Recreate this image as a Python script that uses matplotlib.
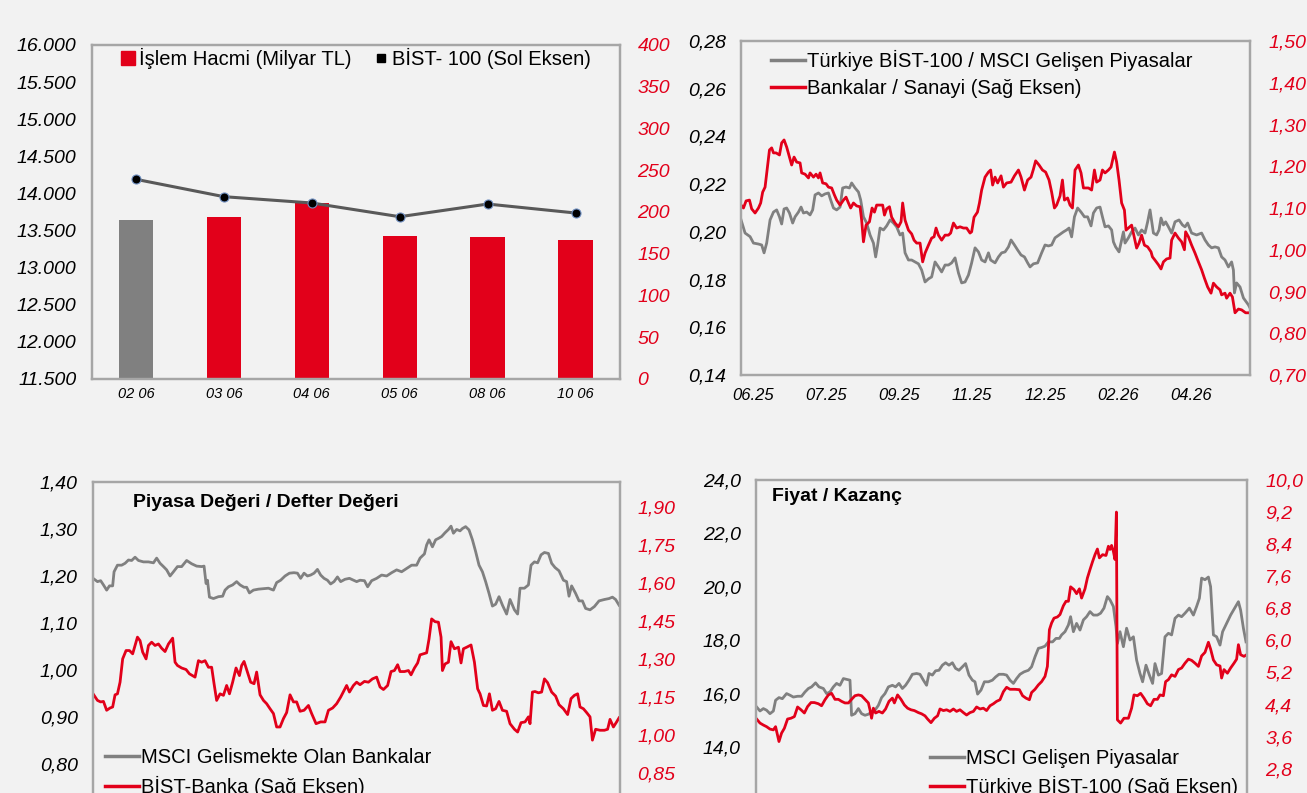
import matplotlib
matplotlib.use("Agg")
import matplotlib.pyplot as plt
from matplotlib.lines import Line2D

plt.rcParams['font.family'] = ['Liberation Sans', 'DejaVu Sans']

RED = '#e2001a'
GRAY = '#808080'
BG = '#f2f2f2'
EDGE = '#a6a6a6'

# ---- top left: islem hacmi / BIST-100
tl_dates = ["02 06", "03 06", "04 06", "05 06", "08 06", "10 06"]
tl_volume = [190, 194, 211, 171, 170, 166]
tl_bist = [14190, 13956, 13871, 13686, 13857, 13736]
tl_bar_colors = [GRAY, RED, RED, RED, RED, RED]

# ---- top right: relative performance (x = trading day)
tr_labels = ["06.25", "07.25", "09.25", "11.25", "12.25", "02.26", "04.26"]
tr_tick_days = [6, 42.5, 79, 115.5, 152, 188.5, 225]
tr_gray_x = [0, 2.0, 4.5, 6.2, 8.7, 10.3, 11.5, 12.8, 14.5, 16.2, 17.8, 19.2, 20.3, 21.5, 22.8, 24.2,
             25.8, 27.0, 28.7, 30.0, 31.2, 32.8, 34.5, 35.8, 37.0, 38.7, 40.3, 42.0, 43.7, 44.8, 46.2,
             47.8, 49.5, 50.8, 52.5, 54.2, 55.3, 57.0, 58.7, 59.8, 61.2, 62.8, 64.5, 66.2, 67.3, 68.3,
             69.5, 71.2, 72.8, 74.5, 76.2, 77.8, 79.5, 80.8, 82.0, 83.7, 85.3, 87.0, 88.7, 90.3, 92.0,
             93.7, 95.3, 97.0, 98.7, 100.3, 102.0, 103.7, 105.3, 107.0, 108.7, 110.3, 112.0, 113.7,
             115.3, 117.0, 118.7, 120.3, 122.0, 123.7, 124.8, 127.0, 128.7, 130.3, 132.0, 133.7, 135.0,
             136.7, 138.3, 140.0, 141.7, 143.3, 144.5, 146.2, 148.3, 150.3, 152.0, 153.7, 155.3, 157.0,
             159.0, 161.2, 162.8, 164.0, 165.3, 166.7, 168.3, 170.0, 171.7, 173.3, 175.0, 176.2, 177.8,
             179.5, 180.7, 182.0, 183.7, 185.3, 186.2, 187.3, 189.0, 190.3, 191.2, 192.0, 193.7, 195.3,
             197.0, 198.7, 200.3, 202.0, 203.3, 204.5, 206.2, 207.8, 209.0, 210.0, 211.2, 212.3, 213.7,
             215.3, 217.0, 219.0, 220.7, 222.0, 223.3, 225.3, 227.8, 230.3, 232.0, 233.7, 235.3, 237.0,
             238.7, 240.3, 242.0, 243.7, 245.3, 246.2, 246.7, 247.8, 249.5, 251.2, 253.7, 254.5]
tr_gray = [0.205, 0.1995, 0.198, 0.1953, 0.1949, 0.1945, 0.1912, 0.1953, 0.205, 0.2083, 0.2092, 0.2063,
           0.2033, 0.2096, 0.2100, 0.2079, 0.2037, 0.2063, 0.2083, 0.2104, 0.2079, 0.2083, 0.2071, 0.2092,
           0.2155, 0.2163, 0.2151, 0.2159, 0.2163, 0.2134, 0.2100, 0.2092, 0.2104, 0.2184, 0.2188, 0.2184,
           0.2205, 0.2184, 0.2167, 0.2134, 0.2063, 0.2037, 0.1987, 0.1953, 0.1895, 0.1945, 0.2016, 0.2008,
           0.2025, 0.2050, 0.2037, 0.2021, 0.1987, 0.1995, 0.1912, 0.1882, 0.1882, 0.1874, 0.1866, 0.1840,
           0.1790, 0.1803, 0.1811, 0.1874, 0.1853, 0.1832, 0.1861, 0.1861, 0.1870, 0.1891, 0.1828, 0.1786,
           0.1790, 0.1819, 0.1870, 0.1933, 0.1916, 0.1882, 0.1874, 0.1912, 0.1882, 0.1870, 0.1895, 0.1912,
           0.1916, 0.1937, 0.1966, 0.1945, 0.1924, 0.1903, 0.1895, 0.1870, 0.1853, 0.1866, 0.1870, 0.1912,
           0.1945, 0.1941, 0.1945, 0.1975, 0.1987, 0.2000, 0.2008, 0.2016, 0.1979, 0.2063, 0.2100, 0.2083,
           0.2063, 0.2063, 0.2025, 0.2079, 0.2100, 0.2104, 0.2063, 0.2021, 0.2025, 0.2008, 0.1958, 0.1937,
           0.1916, 0.1966, 0.2000, 0.1953, 0.1975, 0.2000, 0.2016, 0.1987, 0.2008, 0.1995, 0.2042, 0.2092,
           0.1995, 0.1987, 0.2008, 0.2058, 0.2029, 0.2042, 0.2021, 0.1995, 0.2042, 0.2050, 0.2029, 0.2021,
           0.2037, 0.1995, 0.1987, 0.1995, 0.1966, 0.1945, 0.1933, 0.1937, 0.1933, 0.1895, 0.1882, 0.1853,
           0.1874, 0.1840, 0.1744, 0.1786, 0.1769, 0.1723, 0.1694, 0.1681]
tr_red_x = [0, 1.2, 2.5, 4.2, 5.3, 7.0, 8.7, 9.8, 10.8, 12.0, 13.2, 14.2, 15.3, 16.2, 17.5, 19.2, 20.3,
            21.5, 22.8, 24.2, 25.3, 26.5, 27.8, 29.5, 30.3, 32.0, 33.7, 34.5, 36.2, 37.5, 38.7, 39.5,
            40.8, 42.5, 43.7, 45.3, 46.7, 47.8, 49.5, 51.2, 52.5, 53.7, 54.8, 56.2, 57.8, 59.5, 60.3,
            61.2, 62.5, 64.2, 65.5, 66.7, 67.8, 69.5, 70.8, 71.7, 72.8, 74.2, 75.3, 77.0, 78.7, 80.0,
            80.8, 82.0, 83.7, 85.3, 86.5, 87.8, 89.5, 90.8, 92.0, 93.7, 95.3, 96.5, 97.5, 98.7, 100.3,
            102.0, 103.7, 104.8, 106.2, 107.8, 109.5, 111.2, 112.8, 114.5, 115.3, 116.5, 118.2, 119.2,
            120.3, 122.0, 123.7, 124.8, 125.8, 127.0, 128.3, 130.0, 131.2, 132.8, 135.0, 136.7, 138.7,
            140.0, 141.7, 143.3, 145.0, 146.2, 147.3, 149.0, 150.7, 152.3, 154.0, 155.3, 156.7, 157.8,
            159.5, 160.7, 161.7, 163.3, 164.5, 165.7, 167.0, 168.7, 170.0, 171.2, 173.7, 175.3, 176.7,
            177.8, 179.5, 180.7, 182.0, 183.7, 185.0, 186.7, 187.8, 189.0, 190.3, 191.7, 192.5, 193.7,
            195.3, 196.7, 197.8, 199.0, 200.3, 201.7, 203.3, 205.0, 205.7, 207.0, 208.7, 210.0, 211.2,
            212.8, 214.5, 215.3, 217.0, 218.7, 220.3, 221.7, 222.3, 223.7, 225.3, 227.0, 228.7, 230.3,
            231.7, 233.3, 235.0, 236.2, 237.8, 239.5, 240.3, 242.0, 242.8, 244.5, 245.7, 247.0, 248.7,
            250.3, 252.3, 254.5]
tr_red = [1.107, 1.100, 1.117, 1.119, 1.098, 1.088, 1.100, 1.112, 1.138, 1.150, 1.198, 1.239, 1.244,
          1.232, 1.232, 1.227, 1.256, 1.263, 1.246, 1.222, 1.203, 1.222, 1.210, 1.208, 1.184, 1.181,
          1.172, 1.184, 1.174, 1.181, 1.172, 1.184, 1.160, 1.158, 1.150, 1.148, 1.131, 1.119, 1.107,
          1.119, 1.126, 1.112, 1.100, 1.112, 1.105, 1.103, 1.071, 1.019, 1.059, 1.067, 1.100, 1.090,
          1.107, 1.107, 1.107, 1.083, 1.098, 1.103, 1.078, 1.064, 1.055, 1.067, 1.112, 1.071, 1.047,
          1.038, 1.023, 1.016, 1.016, 0.971, 0.992, 1.011, 1.028, 1.031, 1.052, 1.035, 1.023, 1.035,
          1.035, 1.040, 1.064, 1.052, 1.055, 1.052, 1.052, 1.040, 1.043, 1.078, 1.090, 1.112, 1.143,
          1.174, 1.186, 1.191, 1.155, 1.174, 1.160, 1.177, 1.150, 1.160, 1.162, 1.177, 1.191, 1.174,
          1.143, 1.167, 1.174, 1.193, 1.213, 1.203, 1.191, 1.186, 1.167, 1.138, 1.100, 1.107, 1.129,
          1.167, 1.119, 1.124, 1.107, 1.100, 1.191, 1.203, 1.184, 1.148, 1.148, 1.143, 1.191, 1.162,
          1.167, 1.191, 1.184, 1.191, 1.198, 1.234, 1.210, 1.167, 1.112, 1.095, 1.047, 1.052, 1.059,
          1.028, 1.004, 1.016, 1.035, 1.011, 1.007, 0.995, 0.983, 0.975, 0.964, 0.954, 0.971, 0.978,
          0.980, 1.023, 1.040, 1.028, 1.019, 1.000, 1.043, 1.031, 1.011, 0.992, 0.971, 0.952, 0.932,
          0.911, 0.896, 0.920, 0.911, 0.904, 0.892, 0.896, 0.884, 0.896, 0.887, 0.849, 0.858, 0.856,
          0.849, 0.849]

# ---- bottom left: piyasa degeri / defter degeri
bl_gray_x = [0, 2.2, 3.8, 5.2, 6.8, 8.2, 9.8, 10.5, 12.2, 14.3, 16.0, 17.7, 19.3, 21.0, 22.7, 25.2,
             27.7, 30.2, 31.8, 33.5, 35.2, 36.8, 38.5, 40.2, 42.2, 44.3, 46.8, 49.3, 51.8, 54.3, 55.5,
             56.5, 57.2, 58.2, 60.2, 62.7, 64.8, 66.0, 67.7, 69.8, 71.8, 73.5, 75.5, 76.8, 78.2, 80.2,
             82.7, 85.2, 87.7, 90.2, 91.8, 93.8, 96.0, 98.2, 100.5, 102.2, 103.8, 105.5, 107.2, 108.8,
             110.5, 112.2, 113.8, 115.5, 117.2, 118.8, 120.5, 122.2, 123.8, 126.0, 128.2, 130.2, 131.8,
             133.5, 135.7, 137.3, 139.3, 141.8, 144.3, 146.8, 149.3, 151.8, 154.3, 156.8, 159.3, 161.8,
             163.5, 165.7, 166.8, 168.0, 169.7, 171.3, 172.7, 174.3, 176.0, 177.7, 179.0, 180.2, 181.8,
             183.5, 184.7, 186.3, 188.0, 189.7, 191.3, 193.0, 194.7, 196.3, 198.0, 199.7, 201.3, 203.0,
             204.7, 206.8, 208.5, 210.7, 212.3, 213.5, 215.7, 217.7, 219.0, 220.7, 222.3, 224.0, 225.7,
             227.7, 229.3, 231.0, 233.0, 235.2, 236.8, 238.0, 239.3, 241.3, 243.0, 244.7, 246.3, 248.5,
             250.7, 253.0, 255.7, 258.0, 259.7, 261.3, 263.0]
bl_gray = [1.195, 1.188, 1.190, 1.181, 1.170, 1.179, 1.179, 1.209, 1.223, 1.223, 1.227, 1.234, 1.233,
           1.240, 1.233, 1.230, 1.230, 1.228, 1.238, 1.227, 1.220, 1.213, 1.200, 1.209, 1.220, 1.220,
           1.233, 1.226, 1.221, 1.220, 1.221, 1.184, 1.191, 1.155, 1.152, 1.156, 1.157, 1.170, 1.177,
           1.181, 1.188, 1.181, 1.176, 1.176, 1.164, 1.170, 1.172, 1.173, 1.174, 1.170, 1.186, 1.191,
           1.200, 1.206, 1.207, 1.206, 1.195, 1.206, 1.200, 1.202, 1.206, 1.214, 1.202, 1.195, 1.191,
           1.183, 1.188, 1.198, 1.188, 1.193, 1.195, 1.191, 1.188, 1.191, 1.190, 1.177, 1.190, 1.195,
           1.202, 1.200, 1.207, 1.213, 1.209, 1.216, 1.223, 1.223, 1.238, 1.247, 1.266, 1.277, 1.262,
           1.277, 1.280, 1.284, 1.292, 1.299, 1.306, 1.291, 1.299, 1.296, 1.301, 1.305, 1.298, 1.277,
           1.252, 1.223, 1.209, 1.188, 1.163, 1.136, 1.140, 1.156, 1.138, 1.119, 1.150, 1.128, 1.119,
           1.174, 1.174, 1.181, 1.223, 1.230, 1.228, 1.245, 1.250, 1.248, 1.227, 1.218, 1.211, 1.191,
           1.188, 1.157, 1.179, 1.163, 1.147, 1.147, 1.131, 1.128, 1.135, 1.147, 1.150, 1.152, 1.155,
           1.150, 1.138]
bl_red_x = [0, 2.2, 3.8, 5.2, 6.8, 8.5, 9.8, 11.0, 12.2, 13.5, 14.8, 16.5, 18.2, 19.8, 22.2, 23.5,
            24.8, 26.5, 27.7, 29.3, 31.0, 32.7, 34.3, 36.0, 37.7, 39.8, 41.0, 42.2, 44.3, 46.5, 48.2,
            51.0, 52.7, 54.3, 56.0, 57.7, 59.3, 60.5, 61.8, 63.5, 65.2, 66.8, 68.2, 69.8, 71.5, 73.2,
            74.3, 75.5, 77.2, 78.8, 80.5, 81.8, 83.5, 85.2, 86.8, 88.5, 90.2, 91.8, 93.5, 95.2, 96.8,
            98.5, 100.2, 101.8, 103.5, 105.5, 107.7, 109.3, 111.5, 113.8, 116.0, 117.7, 119.8, 121.8,
            123.8, 125.5, 126.8, 128.2, 130.2, 131.8, 133.5, 135.7, 137.7, 139.7, 141.8, 143.5, 145.2,
            147.3, 149.0, 150.7, 152.3, 153.5, 155.7, 157.7, 159.0, 160.7, 162.3, 163.5, 165.2, 166.8,
            168.0, 169.3, 171.0, 172.7, 174.0, 174.7, 176.0, 177.7, 179.0, 180.7, 182.7, 184.0, 185.2,
            186.8, 189.0, 190.7, 192.3, 193.5, 195.2, 196.8, 198.2, 199.7, 201.3, 203.0, 204.7, 206.8,
            208.5, 210.7, 212.3, 214.0, 216.0, 217.7, 218.5, 219.7, 221.0, 222.7, 224.3, 225.7, 227.3,
            229.3, 231.3, 233.0, 235.2, 237.3, 239.0, 240.7, 242.3, 243.5, 245.2, 246.8, 248.5, 249.7,
            251.3, 253.5, 255.7, 257.3, 258.5, 260.2, 261.8, 263.0]
bl_red = [1.163, 1.137, 1.131, 1.133, 1.098, 1.107, 1.111, 1.159, 1.163, 1.209, 1.301, 1.334, 1.334,
          1.321, 1.387, 1.373, 1.328, 1.301, 1.354, 1.367, 1.354, 1.360, 1.343, 1.330, 1.360, 1.383,
          1.288, 1.275, 1.265, 1.259, 1.242, 1.229, 1.294, 1.288, 1.294, 1.268, 1.268, 1.203, 1.137,
          1.163, 1.157, 1.196, 1.163, 1.209, 1.265, 1.235, 1.275, 1.291, 1.249, 1.209, 1.203, 1.249,
          1.159, 1.137, 1.124, 1.104, 1.085, 1.032, 1.032, 1.065, 1.089, 1.159, 1.131, 1.131, 1.094,
          1.098, 1.117, 1.085, 1.045, 1.052, 1.052, 1.098, 1.107, 1.124, 1.150, 1.176, 1.196, 1.170,
          1.196, 1.209, 1.199, 1.212, 1.209, 1.222, 1.229, 1.190, 1.180, 1.196, 1.251, 1.255, 1.278,
          1.251, 1.251, 1.255, 1.238, 1.265, 1.285, 1.317, 1.321, 1.325, 1.380, 1.459, 1.448, 1.446,
          1.387, 1.255, 1.281, 1.288, 1.369, 1.341, 1.347, 1.285, 1.341, 1.347, 1.356, 1.288, 1.183,
          1.163, 1.117, 1.115, 1.163, 1.098, 1.104, 1.133, 1.098, 1.094, 1.045, 1.023, 1.012, 1.049,
          1.052, 1.072, 1.045, 1.170, 1.172, 1.167, 1.170, 1.222, 1.207, 1.170, 1.154, 1.120, 1.104,
          1.081, 1.144, 1.157, 1.163, 1.111, 1.104, 1.089, 1.072, 0.980, 1.023, 1.019, 1.019, 1.023,
          1.062, 1.032, 1.052, 1.068]

# ---- bottom right: fiyat / kazanc
br_gray_x = [0, 2.0, 3.7, 5.3, 7.0, 8.7, 9.8, 11.5, 13.2, 15.3, 17.0, 18.7, 20.8, 22.8, 24.5, 26.2,
             27.8, 29.8, 31.5, 33.7, 35.3, 37.0, 38.7, 40.3, 42.0, 43.7, 45.3, 47.0, 47.8, 49.5, 51.2,
             52.8, 54.5, 56.2, 57.8, 59.5, 61.2, 62.8, 64.5, 66.2, 68.2, 69.8, 71.5, 73.2, 74.8, 76.5,
             78.2, 80.3, 82.0, 83.7, 85.3, 86.5, 88.2, 89.8, 91.5, 93.2, 94.8, 96.5, 98.2, 99.8, 101.5,
             103.2, 104.8, 106.5, 108.2, 109.5, 110.8, 112.5, 114.2, 116.2, 118.2, 119.8, 121.5, 123.7,
             125.3, 127.0, 128.7, 130.3, 132.0, 134.0, 136.2, 137.8, 139.5, 141.2, 142.8, 144.5, 146.2,
             148.3, 150.0, 151.7, 152.8, 154.5, 156.2, 157.3, 158.7, 160.3, 162.0, 163.7, 165.3, 167.0,
             168.7, 170.7, 172.3, 174.0, 175.7, 177.0, 178.7, 180.0, 180.7, 182.0, 183.7, 185.3, 187.0,
             188.7, 190.3, 192.0, 193.3, 195.0, 196.7, 198.3, 199.5, 201.2, 202.8, 204.5, 206.2, 207.8,
             209.5, 211.2, 212.8, 214.5, 216.7, 218.7, 220.3, 221.7, 222.8, 224.5, 226.2, 227.3, 228.7,
             230.3, 232.0, 233.3, 235.3, 237.3, 239.3, 241.2, 242.3, 243.7, 245.0]
br_gray = [15.54, 15.36, 15.45, 15.39, 15.26, 15.36, 15.76, 15.86, 15.82, 16.01, 15.95, 15.88, 15.91,
           15.91, 16.07, 16.20, 16.26, 16.41, 16.26, 16.20, 16.01, 16.07, 16.26, 16.39, 16.32, 16.57,
           16.54, 16.51, 15.20, 15.26, 15.45, 15.26, 15.20, 15.24, 15.32, 15.39, 15.57, 15.86, 16.01,
           16.26, 16.32, 16.26, 16.39, 16.20, 16.32, 16.51, 16.73, 16.76, 16.73, 16.51, 16.32, 16.76,
           16.70, 16.86, 16.88, 17.07, 17.16, 17.07, 17.16, 16.95, 16.88, 17.01, 17.13, 16.70, 16.51,
           16.45, 15.99, 16.14, 16.45, 16.45, 16.51, 16.63, 16.73, 16.73, 16.70, 16.51, 16.39, 16.57,
           16.73, 16.82, 16.88, 17.01, 17.38, 17.70, 17.73, 17.78, 17.94, 17.94, 18.07, 18.07, 18.20,
           18.32, 18.57, 18.88, 18.32, 18.63, 18.38, 18.76, 18.88, 19.07, 18.94, 18.94, 19.01, 19.20,
           19.63, 19.51, 19.26, 18.51, 17.88, 18.32, 17.76, 18.45, 18.01, 18.13, 17.26, 16.76, 16.45,
           17.07, 16.70, 16.39, 17.13, 16.70, 16.76, 18.13, 18.26, 18.20, 18.82, 18.94, 18.88, 19.01,
           19.20, 18.94, 19.26, 19.57, 20.32, 20.26, 20.36, 20.00, 18.20, 18.13, 17.82, 18.32, 18.63,
           18.94, 19.20, 19.44, 19.13, 18.45, 17.94]
br_red_x = [0, 2.0, 3.7, 5.3, 7.0, 8.7, 9.8, 11.5, 12.8, 14.2, 15.8, 17.5, 19.2, 20.8, 22.5, 24.2,
            25.8, 27.5, 29.2, 31.2, 32.8, 34.5, 36.2, 37.8, 39.5, 41.2, 42.8, 44.5, 46.2, 47.8, 49.5,
            51.2, 52.8, 54.5, 56.2, 57.0, 57.8, 58.7, 59.8, 61.5, 63.2, 64.8, 66.5, 68.2, 69.2, 70.8,
            72.5, 74.2, 75.8, 77.5, 79.2, 81.2, 82.8, 84.5, 85.8, 87.5, 89.2, 90.8, 92.0, 93.7, 95.3,
            97.0, 98.7, 100.3, 102.0, 103.7, 105.3, 107.0, 108.7, 110.3, 112.0, 113.7, 115.3, 117.0,
            118.7, 120.3, 122.0, 123.7, 125.3, 127.0, 129.5, 131.7, 133.3, 135.0, 136.7, 137.8, 139.5,
            141.2, 142.8, 144.5, 145.7, 146.7, 147.8, 149.0, 150.7, 152.0, 153.7, 155.0, 156.2, 157.3,
            159.0, 160.3, 161.7, 162.8, 164.5, 165.7, 167.0, 168.3, 169.5, 170.7, 171.7, 173.3, 175.0,
            176.2, 177.0, 177.8, 178.7, 179.5, 180.2, 180.7, 182.3, 184.0, 186.2, 187.8, 189.0, 190.7,
            192.3, 194.0, 195.7, 197.3, 199.0, 200.7, 202.0, 203.7, 204.8, 206.2, 207.8, 209.5, 211.2,
            212.8, 214.5, 216.2, 217.8, 219.5, 221.2, 222.8, 224.5, 226.2, 227.3, 228.7, 230.3, 232.0,
            232.8, 234.0, 235.7, 237.3, 239.0, 240.3, 241.2, 242.3, 244.0, 245.3]
br_red = [4.06, 3.94, 3.89, 3.85, 3.79, 3.77, 3.85, 3.48, 3.69, 3.81, 4.04, 4.06, 4.10, 4.34, 4.27,
          4.19, 4.35, 4.45, 4.45, 4.42, 4.37, 4.52, 4.64, 4.68, 4.53, 4.53, 4.48, 4.44, 4.44, 4.53,
          4.62, 4.64, 4.62, 4.53, 4.44, 4.27, 4.06, 4.31, 4.19, 4.23, 4.19, 4.29, 4.48, 4.56, 4.44,
          4.64, 4.53, 4.39, 4.31, 4.27, 4.25, 4.20, 4.17, 4.12, 4.04, 3.95, 4.06, 4.12, 4.29, 4.25,
          4.27, 4.23, 4.29, 4.23, 4.27, 4.20, 4.14, 4.20, 4.23, 4.34, 4.29, 4.31, 4.25, 4.37, 4.42,
          4.48, 4.52, 4.72, 4.83, 4.78, 4.78, 4.77, 4.62, 4.56, 4.52, 4.70, 4.78, 4.89, 4.97, 5.10,
          5.35, 6.26, 6.43, 6.55, 6.58, 6.64, 6.86, 6.97, 6.97, 7.33, 7.26, 7.16, 7.28, 7.05, 7.28,
          7.55, 7.76, 7.96, 8.13, 8.27, 8.05, 8.13, 8.11, 8.34, 8.26, 8.36, 8.21, 8.01, 9.19, 4.02,
          3.94, 4.06, 4.06, 4.31, 4.64, 4.62, 4.68, 4.56, 4.42, 4.37, 4.53, 4.53, 4.64, 4.62, 4.97,
          5.02, 5.14, 5.10, 5.27, 5.31, 5.43, 5.53, 5.50, 5.43, 5.35, 5.61, 5.70, 5.95, 5.78, 5.51,
          5.39, 5.36, 5.06, 5.27, 5.18, 5.31, 5.43, 5.53, 5.89, 5.64, 5.60, 5.64]


def comma(v, nd):
    return f"{v:.{nd}f}".replace('.', ',')


def frame(ax, ax2):
    for a in (ax, ax2):
        a.set_facecolor('none')
        for s in a.spines.values():
            s.set_color(EDGE)
            s.set_linewidth(1.6)
        a.tick_params(length=0)
    ax.tick_params(axis='y', pad=11)
    ax2.tick_params(axis='y', pad=13, labelcolor=RED)


def yticks(ax, ticks, labels, color='black'):
    ax.set_yticks(ticks, labels=labels, fontstyle='italic', fontsize=14, color=color)


LEG = dict(loc='upper left', frameon=False, fontsize=14.5, handlelength=1.7, handletextpad=0.1,
           labelspacing=0.4, borderpad=0, borderaxespad=0)

fig = plt.figure(figsize=(13.07, 7.93), dpi=100, facecolor=BG)

# ============ top left
ax = fig.add_axes([0.0704, 0.5221, 0.4036, 0.4212])
ax2 = ax.twinx()
frame(ax, ax2)
xs = list(range(len(tl_dates)))
ax2.bar(xs, tl_volume, width=0.39, color=tl_bar_colors, zorder=2)
ax.plot(xs, tl_bist, color='#595959', lw=2.2, marker='o', ms=6.5, mfc='black',
        mec='#6f8fc0', mew=0.8, zorder=3)
ax.set_zorder(ax2.get_zorder() + 1)
ax.set_xlim(-0.5, len(tl_dates) - 0.5)
ax.set_ylim(11500, 16000)
ax2.set_ylim(0, 400)
lt = list(range(11500, 16001, 500))
yticks(ax, lt, [f"{v:,}".replace(',', '.') for v in lt])
rt = list(range(0, 401, 50))
yticks(ax2, rt, [str(v) for v in rt], RED)
ax.set_xticks(xs, labels=tl_dates, fontstyle='italic', fontsize=10.5)
ax.tick_params(axis='x', pad=6)
h1 = Line2D([], [], ls='none', marker='s', ms=9.5, color=RED)
h2 = Line2D([], [], ls='none', marker='s', ms=6, color='black')
ax.legend([h1, h2], ["İşlem Hacmi (Milyar TL)", "BİST- 100 (Sol Eksen)"], ncol=2,
          loc='upper left', bbox_to_anchor=(0.055, 0.99), frameon=False, fontsize=14.5,
          handlelength=0.7, handletextpad=0.2, columnspacing=1.1, borderpad=0,
          borderaxespad=0)

# ============ top right
ax = fig.add_axes([0.567, 0.5271, 0.3894, 0.4212])
ax2 = ax.twinx()
frame(ax, ax2)
ax.plot(tr_gray_x, tr_gray, color=GRAY, lw=2.0)
ax2.plot(tr_red_x, tr_red, color=RED, lw=2.0)
ax.set_xlim(0, 254.5)
ax.set_ylim(0.14, 0.28)
ax2.set_ylim(0.70, 1.50)
lt = [0.14 + 0.02 * i for i in range(8)]
yticks(ax, lt, [comma(v, 2) for v in lt])
rt = [0.70 + 0.10 * i for i in range(9)]
yticks(ax2, rt, [comma(v, 2) for v in rt], RED)
ax.set_xticks(tr_tick_days, labels=tr_labels, fontstyle='italic', fontsize=12)
ax.tick_params(axis='x', pad=9)
hg = Line2D([], [], color=GRAY, lw=2.5)
hr = Line2D([], [], color=RED, lw=2.5)
ax.legend([hg, hr], ["Türkiye BİST-100 / MSCI Gelişen Piyasalar", "Bankalar / Sanayi (Sağ Eksen)"],
          bbox_to_anchor=(0.058, 0.974), **LEG)

# ============ bottom left (lower part of the frame lies below the picture)
ax = fig.add_axes([0.0712, -0.0227, 0.4028, 0.4149])
ax2 = ax.twinx()
frame(ax, ax2)
ax.plot(bl_gray_x, bl_gray, color=GRAY, lw=2.0)
ax2.plot(bl_red_x, bl_red, color=RED, lw=2.0)
ax.set_xlim(0, 263.25)
ax.set_ylim(0.70, 1.40)
ax2.set_ylim(0.70, 2.00)
lt = [0.80 + 0.10 * i for i in range(7)]
yticks(ax, lt, [comma(v, 2) for v in lt])
rt = [0.85 + 0.15 * i for i in range(8)]
yticks(ax2, rt, [comma(v, 2) for v in rt], RED)
ax.set_xticks([])
ax.text(0.076, 0.939, "Piyasa Değeri / Defter Değeri", transform=ax.transAxes,
        fontsize=14, fontweight='bold', va='center', ha='left')
ax.legend([hg, hr], ["MSCI Gelismekte Olan Bankalar", "BİST-Banka (Sağ Eksen)"],
          bbox_to_anchor=(0.022, 0.19), **LEG)

# ============ bottom right
ax = fig.add_axes([0.5784, -0.0101, 0.3757, 0.4054])
ax2 = ax.twinx()
frame(ax, ax2)
ax.plot(br_gray_x, br_gray, color=GRAY, lw=2.0)
ax2.plot(br_red_x, br_red, color=RED, lw=2.0)
ax.set_xlim(0, 245.5)
ax.set_ylim(12, 24)
ax2.set_ylim(2.0, 10.0)
lt = [14 + 2 * i for i in range(6)]
yticks(ax, lt, [comma(v, 1) for v in lt])
rt = [2.8 + 0.8 * i for i in range(10)]
yticks(ax2, rt, [comma(v, 1) for v in rt], RED)
ax.set_xticks([])
ax.text(0.033, 0.946, "Fiyat / Kazanç", transform=ax.transAxes,
        fontsize=14, fontweight='bold', va='center', ha='left')
ax.legend([hg, hr], ["MSCI Gelişen Piyasalar", "Türkiye BİST-100 (Sağ Eksen)"],
          bbox_to_anchor=(0.354, 0.163), **LEG)

fig.savefig('out.png', dpi=100, facecolor=BG)
